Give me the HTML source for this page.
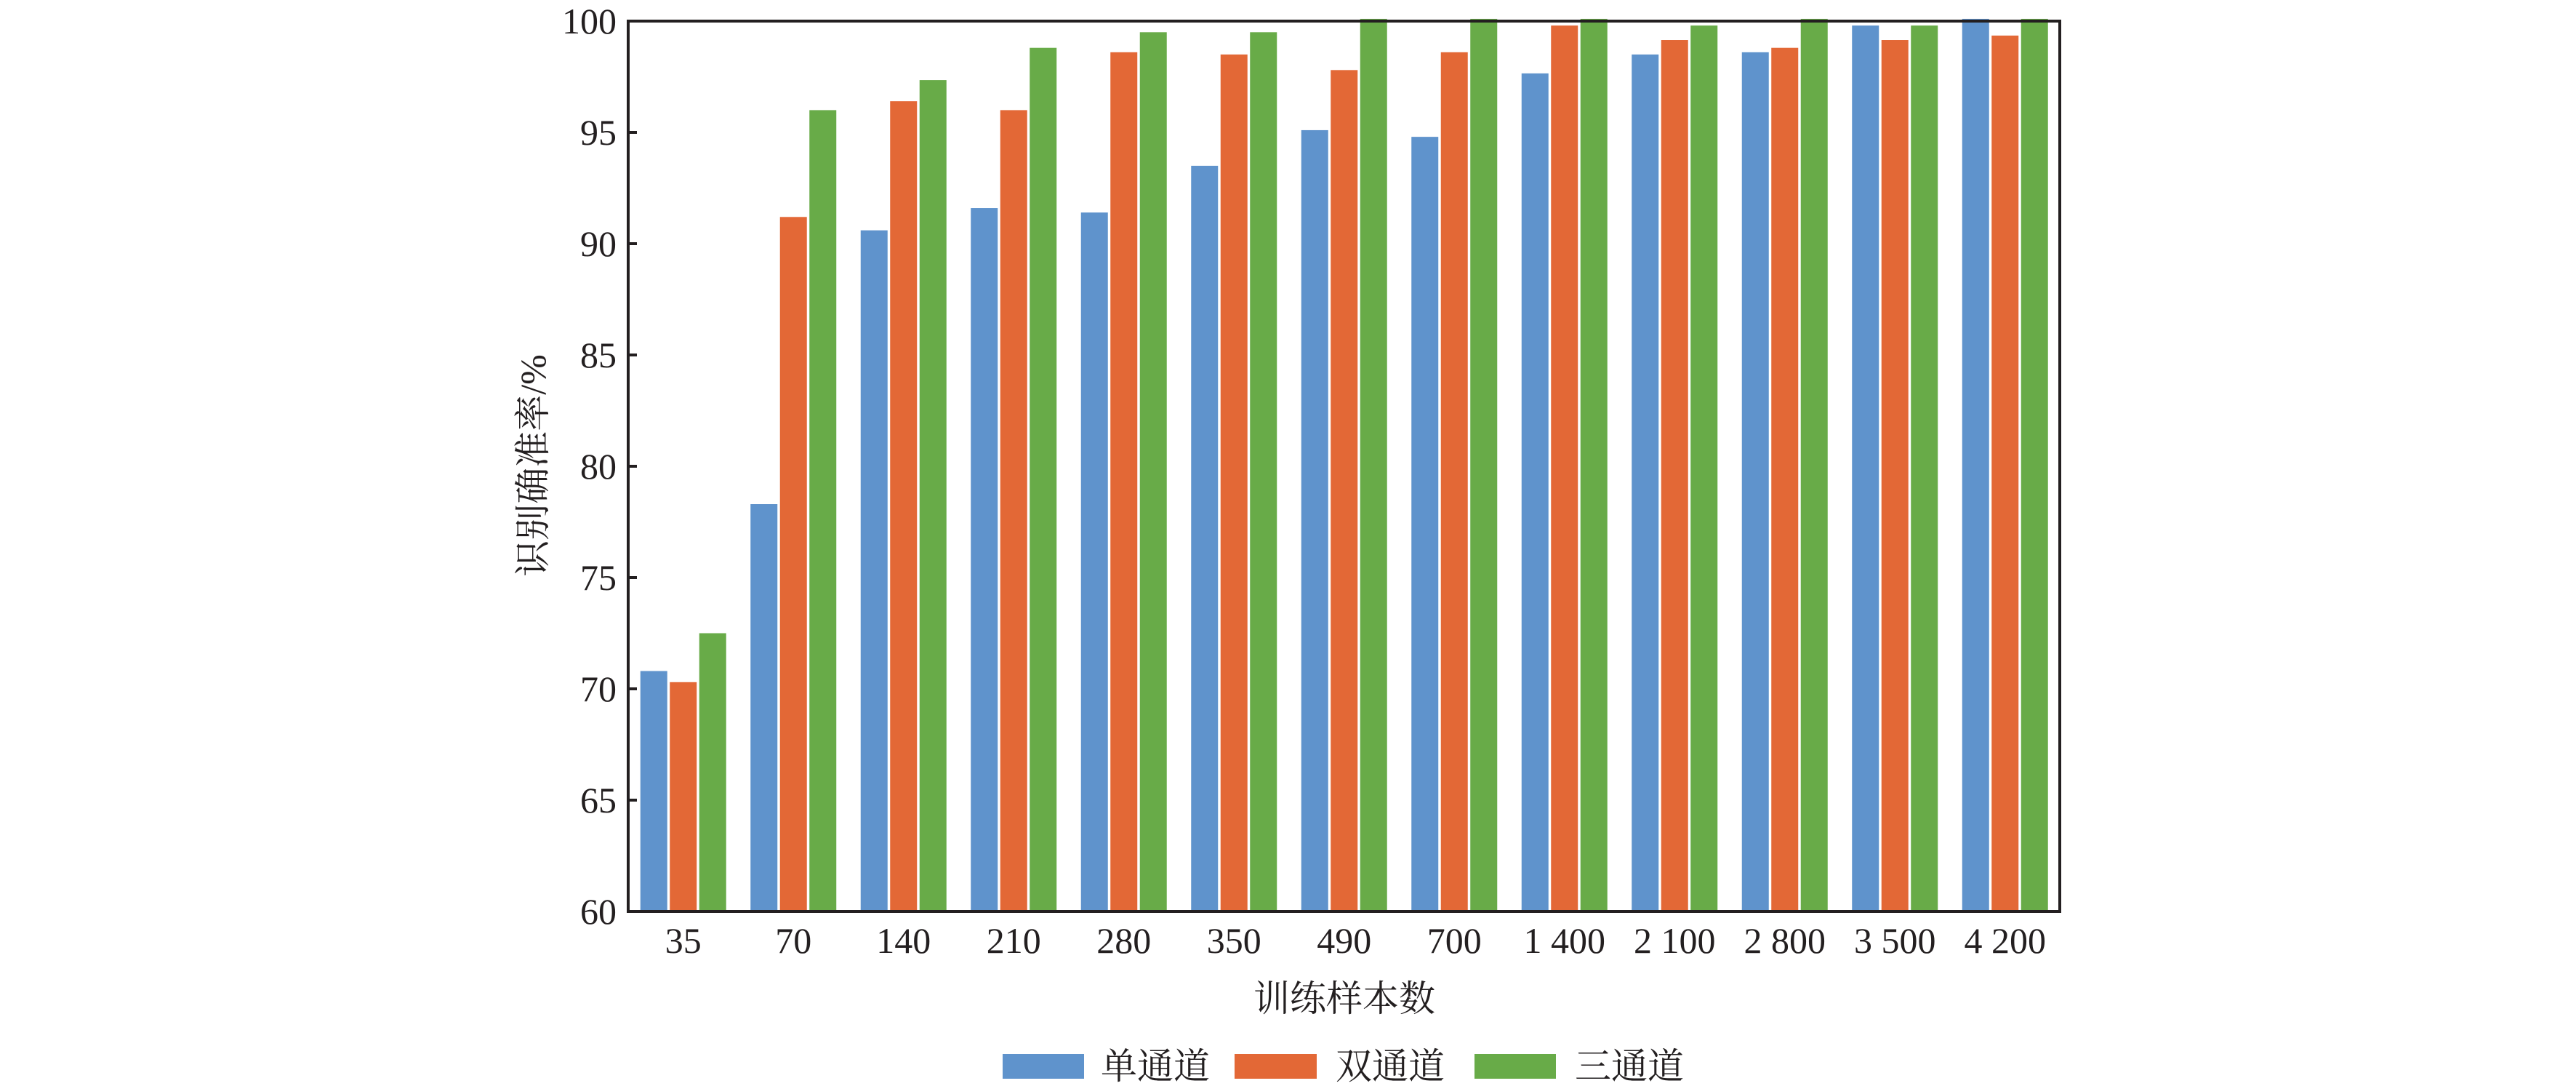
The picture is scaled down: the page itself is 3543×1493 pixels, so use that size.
<!DOCTYPE html>
<html><head><meta charset="utf-8"><style>
html,body{margin:0;padding:0;background:#fff;}
svg{display:block;}
text{font-family:"Liberation Serif","Noto Serif CJK SC",serif;fill:#231f20;}
</style></head><body>
<svg width="3543" height="1493" viewBox="0 0 3543 1493" xmlns="http://www.w3.org/2000/svg">
<g id="bars"></g>
<g id="frame" stroke="#231f20" stroke-width="4" fill="none">
<rect x="864" y="29" width="1969" height="1224"/>
<line x1="864" y1="182" x2="876" y2="182"/>
<line x1="864" y1="335" x2="876" y2="335"/>
<line x1="864" y1="488" x2="876" y2="488"/>
<line x1="864" y1="641" x2="876" y2="641"/>
<line x1="864" y1="794" x2="876" y2="794"/>
<line x1="864" y1="947" x2="876" y2="947"/>
<line x1="864" y1="1100" x2="876" y2="1100"/>
</g>
<g font-size="50" text-anchor="end" dominant-baseline="central">
<text x="848" y="29">100</text>
<text x="848" y="182">95</text>
<text x="848" y="335">90</text>
<text x="848" y="488">85</text>
<text x="848" y="641">80</text>
<text x="848" y="794">75</text>
<text x="848" y="947">70</text>
<text x="848" y="1100">65</text>
<text x="848" y="1253">60</text>
</g>
<g id="xl" font-size="50" text-anchor="middle"></g>
<text x="733" y="640" font-size="50" text-anchor="middle" dominant-baseline="central" transform="rotate(-90 733 640)">识别确准率/%</text>
<text x="1849" y="1390" font-size="50" text-anchor="middle">训练样本数</text>
<rect x="1379" y="1449" width="112" height="34" fill="#5f93cc"/>
<text x="1514" y="1483" font-size="50">单通道</text>
<rect x="1698" y="1449" width="113" height="34" fill="#e36836"/>
<text x="1837" y="1483" font-size="50">双通道</text>
<rect x="2028" y="1449" width="112" height="34" fill="#68ab48"/>
<text x="2166" y="1483" font-size="50">三通道</text>
</svg>
<script>
var d=[[70.8,70.3,72.5],[78.3,91.2,96.0],[90.6,96.4,97.35],[91.6,96.0,98.8],[91.4,98.6,99.5],[93.5,98.5,99.5],[95.1,97.8,100.1],[94.8,98.6,100.1],[97.65,99.8,100.1],[98.5,99.15,99.8],[98.6,98.8,100.1],[99.8,99.15,99.8],[100.1,99.35,100.1]];
var lab=["35","70","140","210","280","350","490","700","1 400","2 100","2 800","3 500","4 200"];
var col=["#5f93cc","#e36836","#68ab48"],off=[-59,-18.5,22];
var ns="http://www.w3.org/2000/svg",g=document.getElementById("bars"),xl=document.getElementById("xl");
function y(v){return 29+(100-v)*30.6;}
for(var i=0;i<13;i++){var cx=864+151.5*(i+0.5);
for(var j=0;j<3;j++){var r=document.createElementNS(ns,"rect");var t=y(d[i][j]);
r.setAttribute("x",cx+off[j]);r.setAttribute("y",t);r.setAttribute("width",37);r.setAttribute("height",1253-t);r.setAttribute("fill",col[j]);g.appendChild(r);}
var tx=document.createElementNS(ns,"text");tx.setAttribute("x",cx);tx.setAttribute("y",1310);tx.textContent=lab[i];xl.appendChild(tx);}
</script>
</body></html>
